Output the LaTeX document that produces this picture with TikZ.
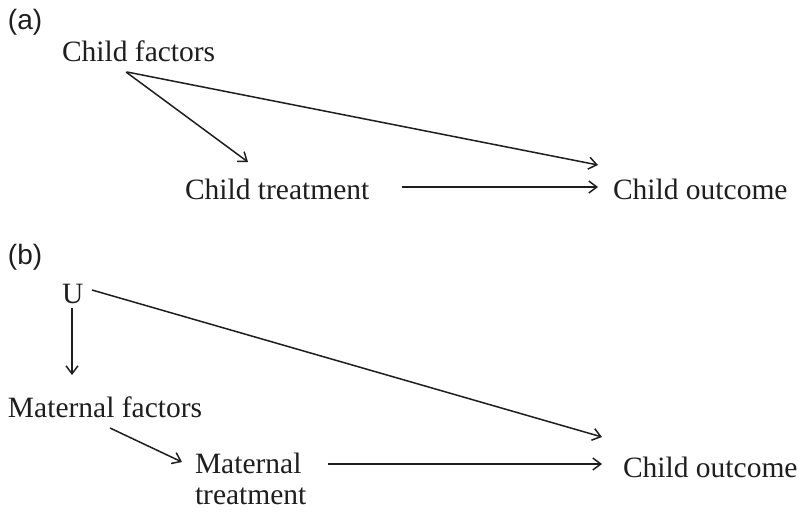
\documentclass[tikz,border=0pt]{standalone}
\usepackage{fontspec}
\setmainfont{Liberation Serif}
\newfontfamily\labfont{Liberation Sans}
\usetikzlibrary{arrows.meta,calc}
\definecolor{ink}{HTML}{1E1E1E}
\tikzset{
  lbl/.style={inner sep=0pt, outer sep=0pt, anchor=base west, text=ink,
    font=\fontsize{29.5}{31}\selectfont},
  panel/.style={inner sep=0pt, outer sep=0pt, anchor=base west, text=ink,
    font=\labfont\fontsize{28}{32}\selectfont},
  arr/.style={draw=ink, line width=1.5pt,
    -{Straight Barb[length=8pt,width=12pt,line width=1.5pt]}}
}
\begin{document}
\begin{tikzpicture}[x=1pt,y=-1pt]
\useasboundingbox (0,0) rectangle (799,511);
% panel (a)
\node[panel] (pa) at (8,30) {(a)};
\node[lbl] (cf) at (62,61) {Child factors};
\node[lbl] (ct) at (185,199) {Child treatment};
\node[lbl] (co) at (613,199) {Child outcome};
\draw[arr] ($(cf.base west)+(64,11)$) -- ($(ct.base west)+(63,-37)$);
\draw[arr] ($(cf.base west)+(65,11)$) -- ($(co.base west)+(-15,-34)$);
\draw[arr] ($(ct.base west)+(217,-12)$) -- ($(co.base west)+(-15,-12)$);
% panel (b)
\node[panel] (pb) at (8,264) {(b)};
\node[lbl] (u) at (62,303) {U};
\node[lbl] (mf) at (8,417) {Maternal factors};
\node[lbl, align=left] (mt) at (195,504) {Maternal\\treatment};
\node[lbl] (co2) at (623,477) {Child outcome};
\draw[arr] ($(u.base west)+(30,-13)$) -- ($(co2.base west)+(-21,-40)$);
\draw[arr] ($(u.base west)+(10,5)$) -- ($(mf.base west)+(64,-42)$);
\draw[arr] ($(mf.base west)+(102,11)$) -- ($(mt.base west)+(-13,-42)$);
\draw[arr] ($(mt.base west)+(133,-40)$) -- ($(co2.base west)+(-21,-13)$);
\end{tikzpicture}
\end{document}
